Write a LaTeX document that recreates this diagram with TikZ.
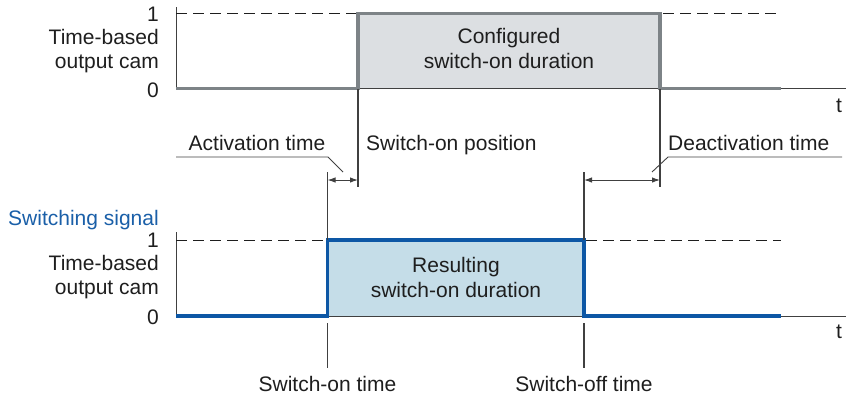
\documentclass[tikz,border=0pt]{standalone}
\usepackage{fontspec}
\setmainfont{Liberation Sans}
\usetikzlibrary{arrows.meta}
\definecolor{camgray}{HTML}{7D8387}
\definecolor{camfill}{HTML}{DCDFE2}
\definecolor{sigblue}{HTML}{0D57A5}
\definecolor{sigfill}{HTML}{C5DDE8}
\definecolor{ink}{HTML}{1E1E1E}
\definecolor{labelblue}{HTML}{1A5FA8}
\begin{document}
\begin{tikzpicture}[x=1pt, y=-1pt,
  font=\fontsize{21}{24}\selectfont,
  lbl/.style={inner sep=0pt, text=ink},
  axisline/.style={line width=1pt, draw=ink!85},
  camsig/.style={line width=3.4pt, draw=camgray, line join=miter},
  bluesig/.style={line width=3.4pt, draw=sigblue, line join=miter},
  levelline/.style={line width=1pt, draw=ink, dash pattern=on 11pt off 6pt},
  marker/.style={line width=1.1pt, draw=ink!85},
  dimarrow/.style={line width=1pt, draw=ink!85, {Latex[length=8pt,width=5.5pt]}-{Latex[length=8pt,width=5.5pt]}},
  leader/.style={line width=0.9pt, draw=ink!85}]
\useasboundingbox (0,0) rectangle (846,397);

% ---------- configured output cam ----------
\coordinate (tTop)  at (176,7);
\coordinate (tO)    at (176,88.5);
\coordinate (tEnd)  at (846,88.5);
\coordinate (tOnLo) at (358,88.5);
\coordinate (tOnHi) at (358,13.5);
\coordinate (tOffHi) at (660,13.5);
\coordinate (tOffLo) at (660,88.5);
\coordinate (tStop) at (781,88.5);
\fill[camfill] (tOnHi) rectangle (tOffLo);
\draw[axisline] (tTop) -- (tO) -- (tEnd);
\draw[camsig] (tO) -- (tOnLo) -- (tOnHi) -- (tOffHi) -- (tOffLo) -- (tStop);
\draw[levelline] (176,13.5) -- (356,13.5);
\draw[levelline] (663,13.5) -- (781,13.5);

\node[lbl, anchor=base east] (t1) at (159,21) {1};
\node[lbl, anchor=base east] (tlab1) at (159,44) {Time-based};
\node[lbl, anchor=base east] (tlab2) at (159,68) {output cam};
\node[lbl, anchor=base east] (t0) at (159,97) {0};
\node[lbl, anchor=base] (tt) at (839,112) {t};
\node[lbl, anchor=base] (conf1) at (509,43) {Configured};
\node[lbl, anchor=base] (conf2) at (509,68) {switch-on duration};

% ---------- resulting switching signal ----------
\coordinate (bTop)  at (176,232);
\coordinate (bO)    at (176,316);
\coordinate (bEnd)  at (846,316);
\coordinate (bOnLo) at (327.5,316);
\coordinate (bOnHi) at (327.5,240);
\coordinate (bOffHi) at (584,240);
\coordinate (bOffLo) at (584,316);
\coordinate (bStop) at (781,316);
\fill[sigfill] (bOnHi) rectangle (bOffLo);
\draw[axisline] (bTop) -- (bO) -- (bEnd);
\draw[bluesig] (bO) -- (bOnLo) -- (bOnHi) -- (bOffHi) -- (bOffLo) -- (bStop);
\draw[levelline] (176,240) -- (326,240);
\draw[levelline] (586,240) -- (781,240);

\node[lbl, anchor=base east, text=labelblue] (sw) at (159,225) {Switching signal};
\node[lbl, anchor=base east] (b1) at (159,247) {1};
\node[lbl, anchor=base east] (blab1) at (159,270) {Time-based};
\node[lbl, anchor=base east] (blab2) at (159,294) {output cam};
\node[lbl, anchor=base east] (b0) at (159,324) {0};
\node[lbl, anchor=base] (bt) at (839,338) {t};
\node[lbl, anchor=base] (res1) at (456,272) {Resulting};
\node[lbl, anchor=base] (res2) at (456,297) {switch-on duration};

% ---------- timing markers ----------
\coordinate (posLo) at (358,187);
\coordinate (offPLo) at (660,187);
\coordinate (onTickTop) at (327.5,172);
\coordinate (offTickTop) at (584,172);
\draw[marker] (tOnLo) -- (posLo);
\draw[marker] (tOffLo) -- (offPLo);
\draw[marker] (onTickTop) -- (bOnHi);
\draw[marker] (offTickTop) -- (bOffHi);
\coordinate (onLow1) at (327.5,323);
\coordinate (onLow2) at (327.5,368);
\coordinate (offLow1) at (584,323);
\coordinate (offLow2) at (584,368);
\draw[marker] (onLow1) -- (onLow2);
\draw[marker] (offLow1) -- (offLow2);

% dimension arrows
\coordinate (actL) at (327.5,180);
\coordinate (actR) at (358,180);
\coordinate (deaL) at (584,180);
\coordinate (deaR) at (660,180);
\draw[dimarrow] (actL) -- (actR);
\draw[dimarrow] (deaL) -- (deaR);

% labels with leader lines
\node[lbl, anchor=base] (act) at (257,150) {Activation time};
\node[lbl, anchor=base west] (pos) at (366,150) {Switch-on position};
\node[lbl, anchor=base west] (dea) at (668,150) {Deactivation time};
\coordinate (actU1) at (176,157);
\coordinate (actU2) at (328,157);
\coordinate (actU3) at (343,172);
\draw[leader] (actU1) -- (actU2) -- (actU3);
\coordinate (deaU1) at (842,157);
\coordinate (deaU2) at (668,157);
\coordinate (deaU3) at (652,172);
\draw[leader] (deaU1) -- (deaU2) -- (deaU3);

\node[lbl, anchor=base] (ontime) at (327.5,391) {Switch-on time};
\node[lbl, anchor=base] (offtime) at (584,391) {Switch-off time};
\end{tikzpicture}
\end{document}
